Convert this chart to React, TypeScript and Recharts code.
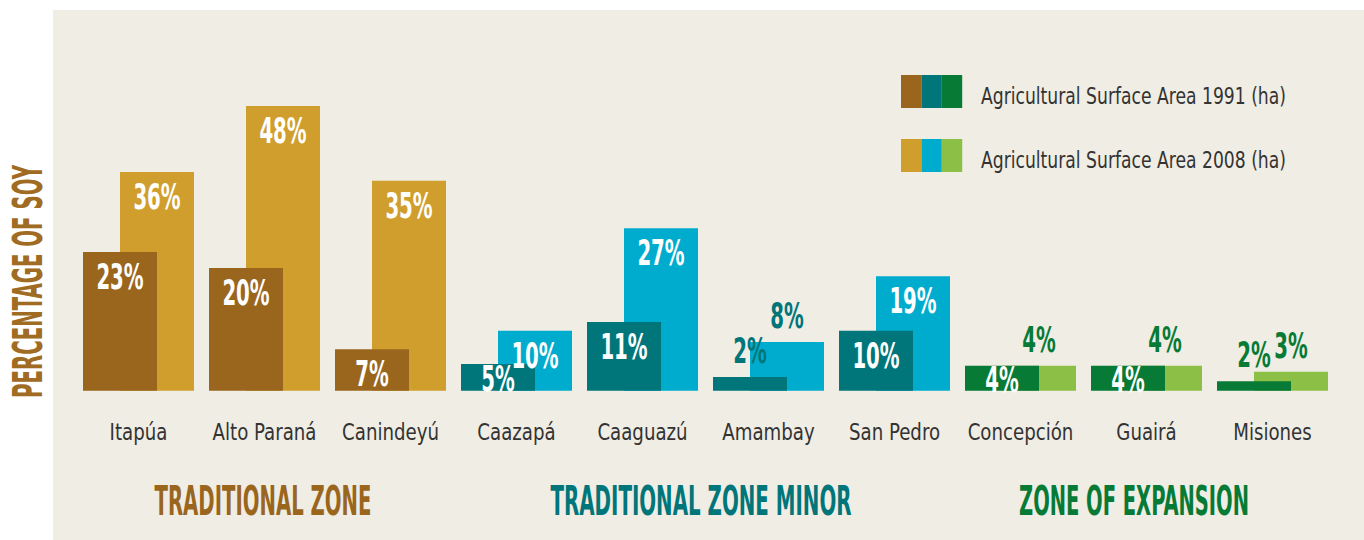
import { BarChart, Bar, XAxis, YAxis, Cell, LabelList, Legend, Customized } from 'recharts';

const categories = ['Itapúa', 'Alto Paraná', 'Canindeyú', 'Caazapá', 'Caaguazú', 'Amambay', 'San Pedro', 'Concepción', 'Guairá', 'Misiones'];
const zoneOf = [0, 0, 0, 1, 1, 1, 1, 2, 2, 2];
const zones = ['TRADITIONAL ZONE', 'TRADITIONAL ZONE MINOR', 'ZONE OF EXPANSION'];

// bar heights (percentage of soy)
const area1991 = [23.4, 20.7, 7.0, 4.5, 11.6, 2.3, 10.1, 4.2, 4.2, 1.6];
const area2008 = [36.9, 48.0, 35.4, 10.1, 27.4, 8.2, 19.3, 4.2, 4.2, 3.2];
// printed labels
const label1991 = ['23%', '20%', '7%', '5%', '11%', '2%', '10%', '4%', '4%', '2%'];
const label2008 = ['36%', '48%', '35%', '10%', '27%', '8%', '19%', '4%', '4%', '3%'];

const legendNames = ['Agricultural Surface Area 1991 (ha)', 'Agricultural Surface Area 2008 (ha)'];

const dark = ['#9a661e', '#00767a', '#077a35'];
const light = ['#d09e2c', '#00acce', '#8cbf45'];

const data = categories.map((name, i) => ({ name, a: area1991[i], b: area2008[i] }));

const NARROW = "'DejaVu Sans Condensed', 'DejaVu Sans', sans-serif";

const makeLabel = (labels: string[], values: number[], minInside: number) => (props: any) => {
    const { x, y, width, height, index } = props;
    const inside = values[index] >= minInside;
    const cx = Number(x) + Number(width) / 2;
    const top = Number(y);
    const h = Number(height);
    const base = inside ? top + Math.max(0, Math.min(11, h - 26)) + 26 : top - 14;
    return (
        <text
            transform={`translate(${cx},${base}) scale(0.61,1)`}
            textAnchor='middle'
            fontFamily={NARROW}
            fontWeight='bold'
            fontSize={36}
            fill={inside ? '#ffffff' : dark[zoneOf[index]]}
        >
            {labels[index]}
        </text>
    );
};

const CategoryTick = (props: any) => {
    const { x, y, payload } = props;
    return (
        <text
            transform={`translate(${x},${y + 49}) scale(0.86,1)`}
            textAnchor='middle'
            fontFamily={NARROW}
            fontSize={23.5}
            fill='#333333'
        >
            {payload.value}
        </text>
    );
};

const LegendBox = () => (
    <svg width={460} height={100}>
        {[dark, light].map((cols, r) => (
            <g key={r} transform={`translate(0,${r * 64})`}>
                {cols.map((c, j) => (
                    <rect key={j} x={j * 20.4} y={0} width={20.4} height={33} fill={c} />
                ))}
                <text
                    x={80}
                    y={29}
                    fontFamily={NARROW}
                    fontSize={23.5}
                    textLength={305}
                    lengthAdjust='spacingAndGlyphs'
                    fill='#333333'
                >
                    {legendNames[r]}
                </text>
            </g>
        ))}
    </svg>
);

const zoneX = [263, 701, 1134];
const zoneWidth = [217, 301, 230];

const Titles = () => (
    <g>
        <text
            transform='translate(42,281.5) rotate(-90)'
            textAnchor='middle'
            fontFamily={NARROW}
            fontWeight='bold'
            fontSize={40}
            textLength={233}
            lengthAdjust='spacingAndGlyphs'
            fill='#a06b22'
        >
            PERCENTAGE OF SOY
        </text>
        {zones.map((z, i) => (
            <text
                key={z}
                x={zoneX[i]}
                y={515}
                textAnchor='middle'
                fontFamily={NARROW}
                fontWeight='bold'
                fontSize={40}
                textLength={zoneWidth[i]}
                lengthAdjust='spacingAndGlyphs'
                fill={dark[i]}
            >
                {z}
            </text>
        ))}
    </g>
);

export default function App() {
    return (
        <div style={{ position: 'absolute', left: 0, top: 0, width: 1364, height: 540, background: '#ffffff' }}>
            <div style={{ position: 'absolute', left: 53, top: 10, width: 1311, height: 530, background: '#f0ede5' }} />
            <div style={{ position: 'absolute', left: 0, top: 0 }}>
                <BarChart
                    width={1364}
                    height={540}
                    data={data}
                    margin={{ left: 57, right: 10, top: 94.2, bottom: 89.3 }}
                >
                    <XAxis xAxisId='a' dataKey='name' hide height={0} padding={{ left: 0, right: 37 }} />
                    <XAxis xAxisId='b' dataKey='name' hide height={0} padding={{ left: 37, right: 0 }} />
                    <XAxis
                        xAxisId='lbl'
                        dataKey='name'
                        height={60}
                        axisLine={false}
                        tickLine={false}
                        tickSize={0}
                        tickMargin={0}
                        interval={0}
                        padding={{ left: 18.5, right: 18.5 }}
                        tick={<CategoryTick />}
                    />
                    <YAxis hide domain={[0, 50]} />
                    <Legend
                        layout='horizontal'
                        verticalAlign='middle'
                        align='center'
                        wrapperStyle={{ left: 901, top: 75, width: 460, height: 100 }}
                        content={() => <LegendBox />}
                    />
                    <Bar xAxisId='b' dataKey='b' barSize={74} isAnimationActive={false}>
                        {data.map((d, i) => (
                            <Cell key={d.name} fill={light[zoneOf[i]]} />
                        ))}
                        <LabelList dataKey='b' content={makeLabel(label2008, area2008, 10)} />
                    </Bar>
                    <Bar xAxisId='a' dataKey='a' barSize={74} isAnimationActive={false}>
                        {data.map((d, i) => (
                            <Cell key={d.name} fill={dark[zoneOf[i]]} />
                        ))}
                        <LabelList dataKey='a' content={makeLabel(label1991, area1991, 4)} />
                    </Bar>
                    <Customized component={Titles} />
                </BarChart>
            </div>
        </div>
    );
}
